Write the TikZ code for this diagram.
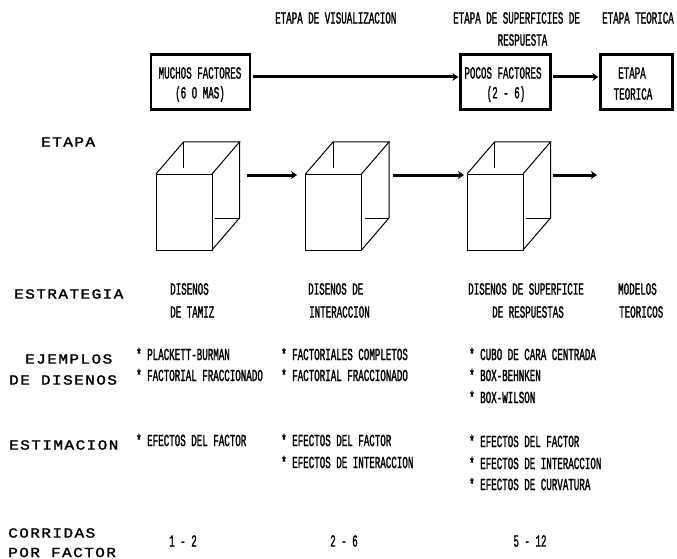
\documentclass[tikz,border=0pt]{standalone}
\usepackage{fontspec}
\usetikzlibrary{arrows.meta,calc}
\newfontfamily\narrowf[FakeStretch=0.54,FakeBold=1.2]{Liberation Mono}
\newfontfamily\widef[FakeStretch=1.15,FakeBold=1.6,LetterSpace=10]{Liberation Mono}
\tikzset{x=1pt,y=-1pt,
 nt/.style={font=\narrowf\fontsize{17}{17}\selectfont,inner sep=0pt,anchor=west},
 nc/.style={nt,anchor=center},
 wt/.style={font=\widef\fontsize{14}{14}\selectfont,inner sep=0pt,anchor=west},
 fbox/.style={draw,line width=2.4pt,inner sep=0pt},
 flow/.style={line width=3pt,-{Stealth[length=6pt,width=8pt]}},
 edge3/.style={line width=1pt}}
\newcommand{\cubo}[2]{%
 \draw[edge3] (#1,#2+32) rectangle (#1+56,#2+108);
 \draw[edge3] (#1,#2+32) -- (#1+27.5,#2) -- (#1+83.5,#2) -- (#1+56,#2+32);
 \draw[edge3] (#1+83.5,#2) -- (#1+83.5,#2+76) -- (#1+56,#2+108);
 \draw[edge3] (#1+59,#2+76) -- (#1+83.5,#2+76);
 \draw[edge3] (#1+27.5,#2) -- (#1+27.5,#2+26);
}
\begin{document}
\begin{tikzpicture}
\useasboundingbox (0,0) rectangle (677,559);
\fill[white] (0,0) rectangle (677,559);
\node[nt] (t1) at (275,18) {ETAPA DE VISUALIZACION};
\node[nt] (t2) at (453,18) {ETAPA DE SUPERFICIES DE};
\node[nc] (t3) at (522.5,40) {RESPUESTA};
\node[nt] (t4) at (602,18) {ETAPA TEORICA};
\node[fbox,minimum width=99pt,minimum height=55pt] (b1) at (200.5,82) {};
\node[fbox,minimum width=90pt,minimum height=55pt] (b2) at (505.5,82) {};
\node[fbox,minimum width=72pt,minimum height=55pt] (b3) at (636.5,82) {};
\node[nc] (b1a) at (200,73) {MUCHOS FACTORES};
\node[nc] (b1b) at (200,94) {(6 O MAS)};
\node[nc] (b2a) at (503,73) {POCOS FACTORES};
\node[nc] (b2b) at (506,94) {(2 - 6)};
\node[nc] (b3a) at (632,73) {ETAPA};
\node[nc] (b3b) at (633,94) {TEORICA};
\draw[flow] ($(b1.east)+(2,-5)$) coordinate (f1) -- ($(f1 -| b2.west)+(-1,0)$);
\draw[flow] ($(b2.east)+(1,-5)$) coordinate (f2) -- ($(f2 -| b3.west)+(-1,0)$);
\cubo{156}{142}
\cubo{305.5}{142}
\cubo{467}{142}
\coordinate (a1) at (247,175); \coordinate (a1e) at (297,175);
\coordinate (a2) at (393,175); \coordinate (a2e) at (464,175);
\coordinate (a3) at (553,175); \coordinate (a3e) at (597,175);
\draw[flow] (a1) -- (a1e);
\draw[flow] (a2) -- (a2e);
\draw[flow] (a3) -- (a3e);
\node[wt] (l1) at (41,142) {ETAPA};
\node[wt] (l2) at (14,294) {ESTRATEGIA};
\node[wt] (l3) at (25,359) {EJEMPLOS};
\node[wt] (l4) at (9,380) {DE DISENOS};
\node[wt] (l5) at (9,445) {ESTIMACION};
\node[wt] (l6) at (8,533) {CORRIDAS};
\node[wt] (l7) at (8,552.5) {POR FACTOR};
\node[nt] at (170,289) {DISENOS};
\node[nt] at (170,312) {DE TAMIZ};
\node[nt] at (308,289) {DISENOS DE};
\node[nt] at (309,312) {INTERACCION};
\node[nt] at (468,289) {DISENOS DE SUPERFICIE};
\node[nt] at (492,312) {DE RESPUESTAS};
\node[nt] at (618,289) {MODELOS};
\node[nt] at (619,312) {TEORICOS};
\node[nt] at (136,354) {* PLACKETT-BURMAN};
\node[nt] at (136,375) {* FACTORIAL FRACCIONADO};
\node[nt] at (281,354) {* FACTORIALES COMPLETOS};
\node[nt] at (281,375) {* FACTORIAL FRACCIONADO};
\node[nt] at (469,354) {* CUBO DE CARA CENTRADA};
\node[nt] at (469,375) {* BOX-BEHNKEN};
\node[nt] at (469,397) {* BOX-WILSON};
\node[nt] at (136,440) {* EFECTOS DEL FACTOR};
\node[nt] at (281,440) {* EFECTOS DEL FACTOR};
\node[nt] at (281,462) {* EFECTOS DE INTERACCION};
\node[nt] at (469,441) {* EFECTOS DEL FACTOR};
\node[nt] at (469,463) {* EFECTOS DE INTERACCION};
\node[nt] at (469,484) {* EFECTOS DE CURVATURA};
\node[nc] at (183,541) {1 - 2};
\node[nc] at (344,541) {2 - 6};
\node[nc] at (530,541) {5 - 12};
\end{tikzpicture}
\end{document}
